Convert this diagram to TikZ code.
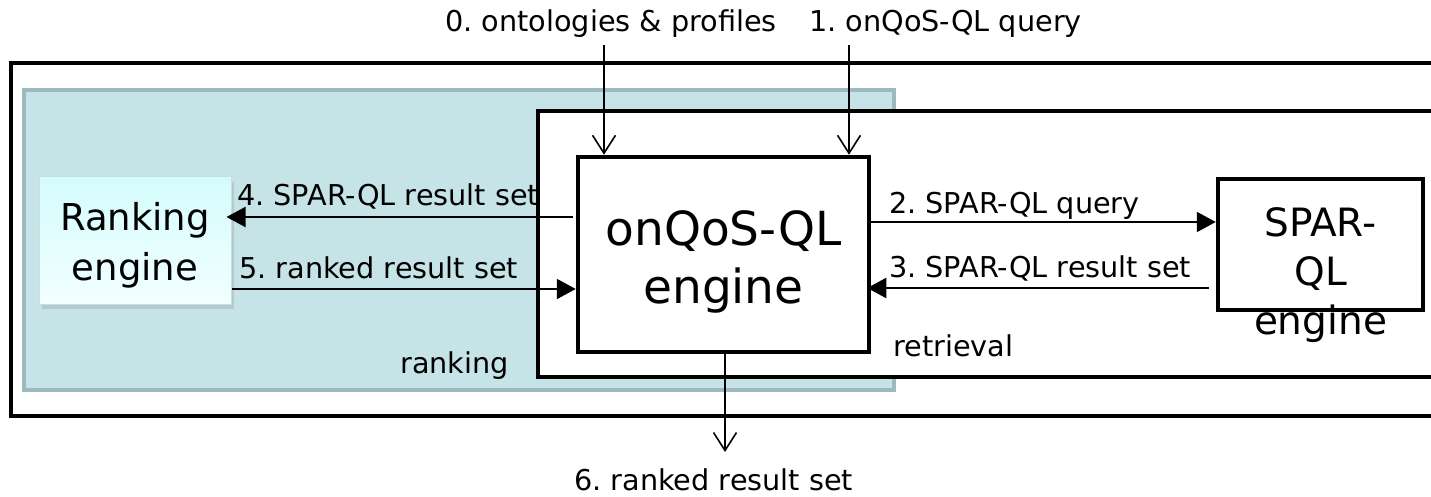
\documentclass[tikz,border=0pt]{standalone}
\usepackage{fontspec}
\setmainfont{DejaVu Sans}
\frenchspacing
\usetikzlibrary{arrows.meta,shadows}
\definecolor{tealfill}{HTML}{C6E4E7}
\definecolor{tealline}{HTML}{9CB9BD}
\definecolor{rankA}{HTML}{D4FCFD}
\definecolor{rankB}{HTML}{F2FFFF}
\tikzset{
  frame/.style={draw=black, line width=4.5pt, fill=white},
  lbl/.style={anchor=base west, inner sep=0pt, font=\fontsize{28.7}{32}\selectfont},
  big/.style={font=\fontsize{37}{50}\selectfont, align=center, inner sep=0pt},
  solidarrow/.style={line width=2pt, -{Triangle[length=19pt,width=20pt]}},
  openarrow/.style={line width=1.6pt, -{Straight Barb[length=18pt,width=23pt,line width=1.6pt]}},
}
\begin{document}
\begin{tikzpicture}[x=1pt,y=-1pt]
\clip (0,0) rectangle (1431,497);
\fill[white] (0,0) rectangle (1431,497);
% containers
\draw[frame] (11,63) rectangle (1450,416);
\draw[draw=tealline, fill=tealfill, line width=4pt] (24,90) rectangle (894,390);
\draw[frame] (538,111) rectangle (1450,377);
% nodes
\node[frame, minimum width=291pt, minimum height=195pt, inner sep=0pt] (onq) at (723.5,254.5) {};
\node[big, font=\fontsize{47}{58}\selectfont] (onqtxt) at (723.5,262) {onQoS-QL\\engine};
\node[draw=tealline!50, line width=1pt, top color=rankA, bottom color=rankB,
      drop shadow={opacity=0.25, shadow xshift=3pt, shadow yshift=-5pt},
      minimum width=192pt, minimum height=127pt, inner sep=0pt] (rank) at (135,240.5) {};
\node[big] (ranktxt) at (135,245) {Ranking\\engine};
\node[frame, minimum width=205pt, minimum height=131pt, inner sep=0pt] (spar) at (1320.5,244.5) {};
\node[big, font=\fontsize{39}{49}\selectfont] (spartxt) at (1320.5,275) {SPAR-\\QL\\engine};
% free ends
\coordinate (c0) at (604,45);
\coordinate (c1) at (849,45);
\coordinate (c6) at (725,452);
% connectors
\draw[openarrow] (c0) -- (c0 |- onq.north);
\draw[openarrow] (c1) -- (c1 |- onq.north);
\draw[openarrow] (onq.south -| c6) -- (c6);
\draw[solidarrow, shorten <=3pt, shorten >=-5pt] (onq.west |- 0,217) -- (rank.east |- 0,217);
\draw[solidarrow] (rank.east |- 0,289) -- (onq.west |- 0,289);
\draw[solidarrow] (onq.east |- 0,222) -- (spar.west |- 0,222);
\draw[solidarrow, shorten <=7pt, shorten >=-4pt] (spar.west |- 0,288) -- (onq.east |- 0,288);
% labels
\node[lbl] (l0) at (445,32) {0. ontologies \& profiles};
\node[lbl] (l1) at (809,32) {1. onQoS-QL query};
\node[lbl] (l4) at (237,205) {4. SPAR-QL result set};
\node[lbl] (l5) at (239,278) {5. ranked result set};
\node[lbl] (l2) at (889,213) {2. SPAR-QL query};
\node[lbl] (l3) at (889,277) {3. SPAR-QL result set};
\node[lbl] (lrank) at (400,373) {ranking};
\node[lbl] (lretr) at (893,356) {retrieval};
\node[lbl] (l6) at (574,490) {6. ranked result set};
\end{tikzpicture}
\end{document}
